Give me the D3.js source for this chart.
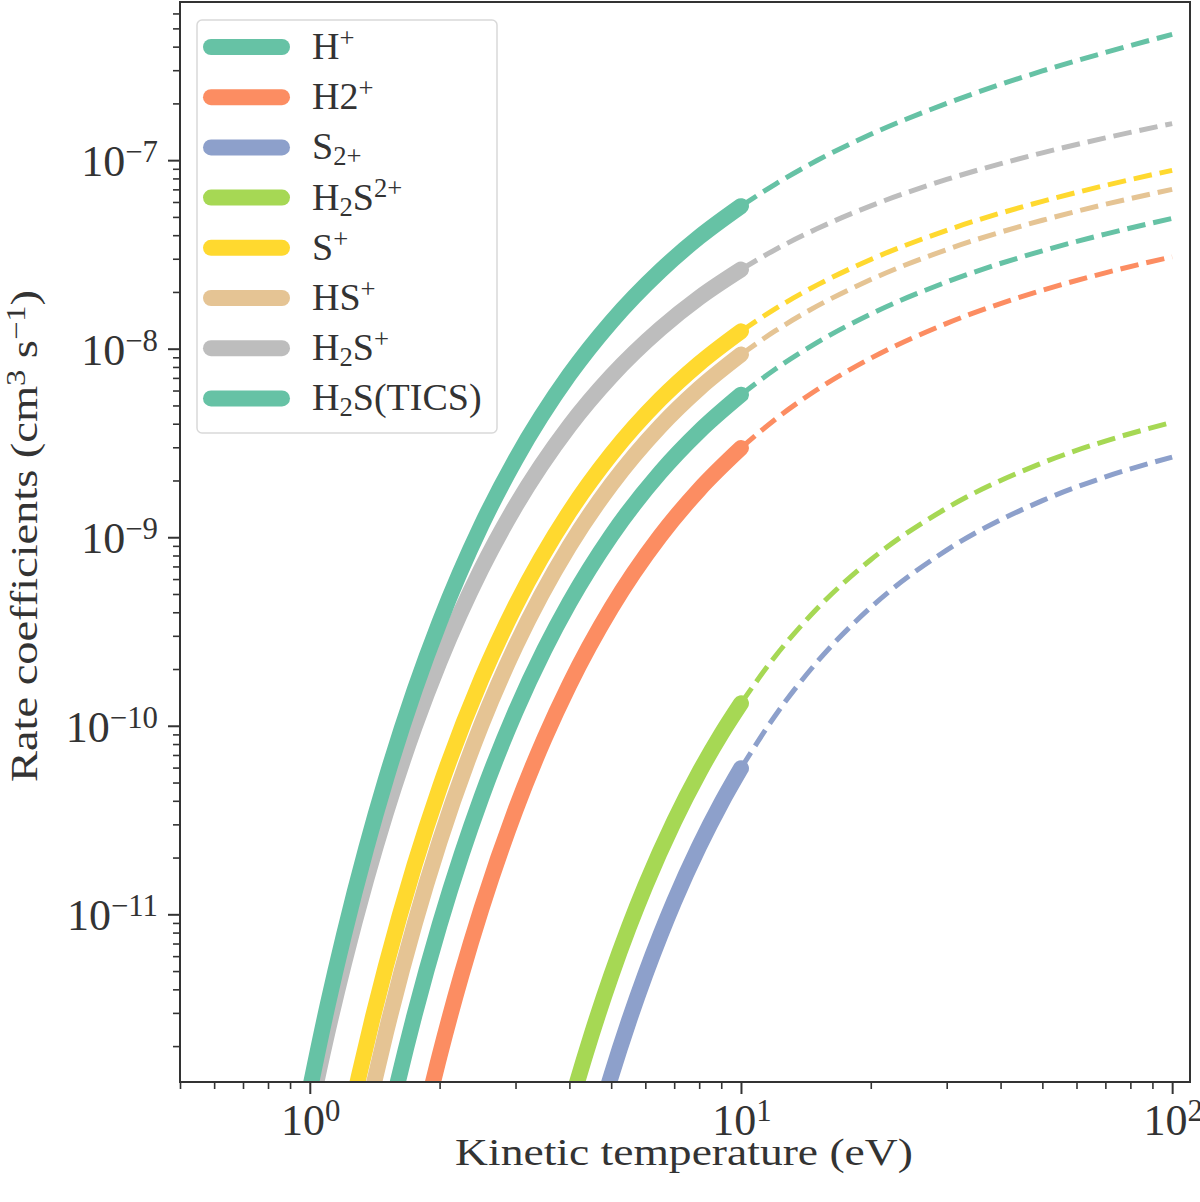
<!DOCTYPE html>
<html>
<head>
<meta charset="utf-8">
<script src="https://cdn.jsdelivr.net/npm/d3@7/dist/d3.min.js"></script>
<style>
  body { margin: 0; background: #fff; }
  svg text { font-family: "Liberation Serif", "Times New Roman", serif; fill: #333; }
</style>
</head>
<body>
<div id="chart"></div>
<script>
// [T (eV), k (cm^3 s^-1)]; thick part up to 10 eV, dashed beyond
const hPlusSolid = [[0.95, 6.607e-13], [1.1, 3.304e-12], [1.2, 7.762e-12], [1.35, 2.218e-11], [1.5, 5.164e-11], [1.75, 1.545e-10], [2, 3.548e-10], [2.5, 1.156e-9], [3, 2.582e-9], [4, 7.278e-9], [5, 1.387e-8], [6.5, 2.588e-8], [8, 3.908e-8], [10, 5.702e-8]];
const hPlusDashed = [[10, 5.702e-8], [12, 7.447e-8], [15, 9.954e-8], [20, 1.371e-7], [30, 2.0e-7], [50, 2.972e-7], [70, 3.724e-7], [100, 4.645e-7]];

const h2PlusSolid = [[1.8, 6.607e-13], [2, 1.778e-12], [2.25, 4.808e-12], [2.5, 1.069e-11], [3, 3.581e-11], [3.5, 8.551e-11], [4, 1.652e-10], [5, 4.207e-10], [6.5, 1.016e-9], [8, 1.791e-9], [10, 2.972e-9]];
const h2PlusDashed = [[10, 2.972e-9], [12, 4.214e-9], [15, 6.056e-9], [20, 8.902e-9], [30, 1.362e-8], [50, 2.04e-8], [70, 2.526e-8], [100, 3.072e-8]];

const s2PlusSolid = [[4.6, 7.295e-13], [5, 1.39e-12], [5.5, 2.729e-12], [6, 4.797e-12], [6.5, 7.745e-12], [7, 1.172e-11], [8, 2.296e-11], [9, 3.89e-11], [10, 5.949e-11]];
const s2PlusDashed = [[10, 5.949e-11], [12, 1.131e-10], [15, 2.175e-10], [20, 4.246e-10], [30, 8.54e-10], [50, 1.564e-9], [70, 2.089e-9], [100, 2.663e-9]];

const h2s2PlusSolid = [[3.8, 6.039e-13], [4, 9.268e-13], [4.5, 2.286e-12], [5, 4.732e-12], [5.5, 8.59e-12], [6, 1.416e-11], [7, 3.119e-11], [8, 5.662e-11], [9, 9.036e-11], [10, 1.315e-10]];
const h2s2PlusDashed = [[10, 1.315e-10], [12, 2.332e-10], [15, 4.174e-10], [20, 7.6e-10], [30, 1.427e-9], [50, 2.479e-9], [70, 3.238e-9], [100, 4.066e-9]];

const sPlusSolid = [[1.2, 6.081e-13], [1.3, 1.39e-12], [1.4, 2.838e-12], [1.5, 5.272e-12], [1.75, 1.828e-11], [2, 4.677e-11], [2.5, 1.766e-10], [3, 4.335e-10], [4, 1.361e-9], [5, 2.754e-9], [6.5, 5.395e-9], [8, 8.337e-9], [10, 1.236e-8]];
const sPlusDashed = [[10, 1.236e-8], [12, 1.626e-8], [15, 2.173e-8], [20, 2.972e-8], [30, 4.246e-8], [50, 6.046e-8], [70, 7.345e-8], [100, 8.831e-8]];

const hsPlusSolid = [[1.3, 5.585e-13], [1.4, 1.2e-12], [1.5, 2.333e-12], [1.75, 8.872e-12], [2, 2.432e-11], [2.5, 1.012e-10], [3, 2.642e-10], [4, 8.974e-10], [5, 1.901e-9], [6.5, 3.882e-9], [8, 6.152e-9], [10, 9.311e-9]];
const hsPlusDashed = [[10, 9.311e-9], [12, 1.242e-8], [15, 1.681e-8], [20, 2.326e-8], [30, 3.354e-8], [50, 4.8e-8], [70, 5.832e-8], [100, 6.998e-8]];

const h2sPlusSolid = [[0.97, 6.368e-13], [1.1, 2.399e-12], [1.2, 5.483e-12], [1.35, 1.514e-11], [1.5, 3.428e-11], [1.75, 9.863e-11], [2, 2.193e-10], [2.5, 6.792e-10], [3, 1.462e-9], [4, 3.899e-9], [5, 7.145e-9], [6.5, 1.276e-8], [8, 1.866e-8], [10, 2.63e-8]];
const h2sPlusDashed = [[10, 2.63e-8], [12, 3.35e-8], [15, 4.325e-8], [20, 5.721e-8], [30, 7.898e-8], [50, 1.094e-7], [70, 1.312e-7], [100, 1.563e-7]];

const ticsSolid = [[1.5, 6.808e-13], [1.6, 1.288e-12], [1.75, 2.931e-12], [2, 8.81e-12], [2.25, 2.084e-11], [2.5, 4.169e-11], [3, 1.189e-10], [3.5, 2.533e-10], [4, 4.498e-10], [5, 1.019e-9], [6.5, 2.208e-9], [8, 3.639e-9], [10, 5.702e-9]];
const ticsDashed = [[10, 5.702e-9], [12, 7.78e-9], [15, 1.078e-8], [20, 1.528e-8], [30, 2.259e-8], [50, 3.303e-8], [70, 4.055e-8], [100, 4.909e-8]];

// legend labels as [text, 'sup' | 'sub' | ''] pieces
const series = [
  { label: [["H", ""], ["+", "sup"]], color: "#66c2a5", solid: hPlusSolid, dashed: hPlusDashed },
  { label: [["H2", ""], ["+", "sup"]], color: "#fc8d62", solid: h2PlusSolid, dashed: h2PlusDashed },
  { label: [["S", ""], ["2+", "sub"]], color: "#8da0cb", solid: s2PlusSolid, dashed: s2PlusDashed },
  { label: [["H", ""], ["2", "sub"], ["S", ""], ["2+", "sup"]], color: "#a6d854", solid: h2s2PlusSolid, dashed: h2s2PlusDashed },
  { label: [["S", ""], ["+", "sup"]], color: "#ffd92f", solid: sPlusSolid, dashed: sPlusDashed },
  { label: [["HS", ""], ["+", "sup"]], color: "#e5c494", solid: hsPlusSolid, dashed: hsPlusDashed },
  { label: [["H", ""], ["2", "sub"], ["S", ""], ["+", "sup"]], color: "#bdbdbd", solid: h2sPlusSolid, dashed: h2sPlusDashed },
  { label: [["H", ""], ["2", "sub"], ["S(TICS)", ""]], color: "#66c2a5", solid: ticsSolid, dashed: ticsDashed }
];
// H2S+ sits under H+ in the figure
const drawOrder = [6, 0, 1, 2, 3, 4, 5, 7];

const xMajor = [1, 10, 100];
const yMajor = [1e-11, 1e-10, 1e-9, 1e-8, 1e-7];

const width = 1200, height = 1202;
const plot = { left: 180, right: 1190, top: 2, bottom: 1082 };

const svg = d3.select("#chart")
  .append("svg")
  .attr("width", width)
  .attr("height", height);

const x = d3.scaleLog().domain([0.5, 110]).range([plot.left, plot.right]);
const y = d3.scaleLog().domain([1.29e-12, 6.9e-7]).range([plot.bottom, plot.top]);

// minor ticks: 2..9 in every decade inside the domain
function minors(scale) {
  const [a, b] = scale.domain();
  const out = [];
  for (let e = Math.floor(Math.log10(a)); e <= Math.ceil(Math.log10(b)); e++) {
    for (let m = 2; m <= 9; m++) {
      const v = m * Math.pow(10, e);
      if (v >= a && v <= b) out.push(v);
    }
  }
  return out;
}

function richText(sel, parts, size) {
  let shift = 0;
  parts.forEach(([t, kind]) => {
    const target = kind === "sup" ? -0.32 * size : kind === "sub" ? 0.16 * size : 0;
    sel.append("tspan")
      .attr("dy", target - shift)
      .attr("font-size", kind ? size * 0.7 : size)
      .text(t);
    shift = target;
  });
}

svg.append("defs").append("clipPath").attr("id", "clip")
  .append("rect")
  .attr("x", plot.left).attr("y", plot.top)
  .attr("width", plot.right - plot.left).attr("height", plot.bottom - plot.top);

const line = d3.line()
  .x(d => x(d[0]))
  .y(d => y(d[1]))
  .curve(d3.curveMonotoneX);

const curves = svg.append("g").attr("clip-path", "url(#clip)");

// dashed extrapolation first, then the thick range on top
drawOrder.forEach(i => {
  const s = series[i];
  curves.append("path")
    .attr("d", line(s.dashed))
    .attr("fill", "none")
    .attr("stroke", s.color)
    .attr("stroke-width", 5)
    .attr("stroke-dasharray", "18.5,8");
});
drawOrder.forEach(i => {
  const s = series[i];
  curves.append("path")
    .attr("d", line(s.solid))
    .attr("fill", "none")
    .attr("stroke", s.color)
    .attr("stroke-width", 16)
    .attr("stroke-linecap", "round")
    .attr("stroke-linejoin", "round");
});

// axes
const axisColor = "#333";
function styleAxis(g, w) {
  g.select(".domain").remove();
  g.selectAll("line").attr("stroke", axisColor).attr("stroke-width", w);
}

svg.append("g")
  .attr("transform", `translate(0,${plot.bottom})`)
  .call(d3.axisBottom(x).tickValues(xMajor).tickSize(12).tickFormat(""))
  .call(g => styleAxis(g, 2));
svg.append("g")
  .attr("transform", `translate(0,${plot.bottom})`)
  .call(d3.axisBottom(x).tickValues(minors(x)).tickSize(7).tickFormat(""))
  .call(g => styleAxis(g, 1.6));
svg.append("g")
  .attr("transform", `translate(${plot.left},0)`)
  .call(d3.axisLeft(y).tickValues(yMajor).tickSize(12).tickFormat(""))
  .call(g => styleAxis(g, 2));
svg.append("g")
  .attr("transform", `translate(${plot.left},0)`)
  .call(d3.axisLeft(y).tickValues(minors(y)).tickSize(7).tickFormat(""))
  .call(g => styleAxis(g, 1.6));

svg.append("rect")
  .attr("x", plot.left).attr("y", plot.top)
  .attr("width", plot.right - plot.left).attr("height", plot.bottom - plot.top)
  .attr("fill", "none")
  .attr("stroke", axisColor)
  .attr("stroke-width", 2);

// tick labels
const tickSize = 44;
xMajor.forEach(v => {
  const t = svg.append("text")
    .attr("x", x(v) + 1)
    .attr("y", 1135)
    .attr("text-anchor", "middle")
    .attr("font-size", tickSize);
  richText(t, [["10", ""], [String(Math.round(Math.log10(v))), "sup"]], tickSize);
});
yMajor.forEach(v => {
  const t = svg.append("text")
    .attr("x", 158)
    .attr("y", y(v) + 16)
    .attr("text-anchor", "end")
    .attr("font-size", tickSize);
  richText(t, [["10", ""], ["\u2212" + Math.abs(Math.round(Math.log10(v))), "sup"]], tickSize);
});

// axis labels, widened a little to the width of the original lettering
const labelSize = 38;
const xlG = svg.append("g");
const xl = xlG.append("text")
  .attr("text-anchor", "middle")
  .attr("font-size", labelSize);
richText(xl, [["Kinetic temperature (eV)", ""]], labelSize);
const xs = 458 / xl.node().getBBox().width;
xlG.attr("transform", `translate(${(plot.left + plot.right) / 2 - 1},1165) scale(${xs},1)`);

const ylG = svg.append("g");
const yl = ylG.append("text")
  .attr("text-anchor", "middle")
  .attr("font-size", labelSize);
richText(yl, [["Rate coefficients (cm", ""], ["3", "sup"], [" s", ""], ["\u22121", "sup"], [")", ""]], labelSize);
const ys = 492 / yl.node().getBBox().width;
ylG.attr("transform", `translate(37,536) rotate(-90) scale(${ys},1)`);

// legend
const legend = svg.append("g");
legend.append("rect")
  .attr("x", 197).attr("y", 20)
  .attr("width", 300).attr("height", 413)
  .attr("rx", 5)
  .attr("fill", "#fff").attr("fill-opacity", 0.8)
  .attr("stroke", "#d9d9d9").attr("stroke-width", 1.5);

const legendSize = 38;
series.forEach((s, i) => {
  const cy = 47 + i * 50.2;
  legend.append("line")
    .attr("x1", 211).attr("x2", 282)
    .attr("y1", cy).attr("y2", cy)
    .attr("stroke", s.color)
    .attr("stroke-width", 16)
    .attr("stroke-linecap", "round");
  const t = legend.append("text")
    .attr("x", 312)
    .attr("y", cy + 12)
    .attr("font-size", legendSize);
  richText(t, s.label, legendSize);
});
</script>
</body>
</html>
